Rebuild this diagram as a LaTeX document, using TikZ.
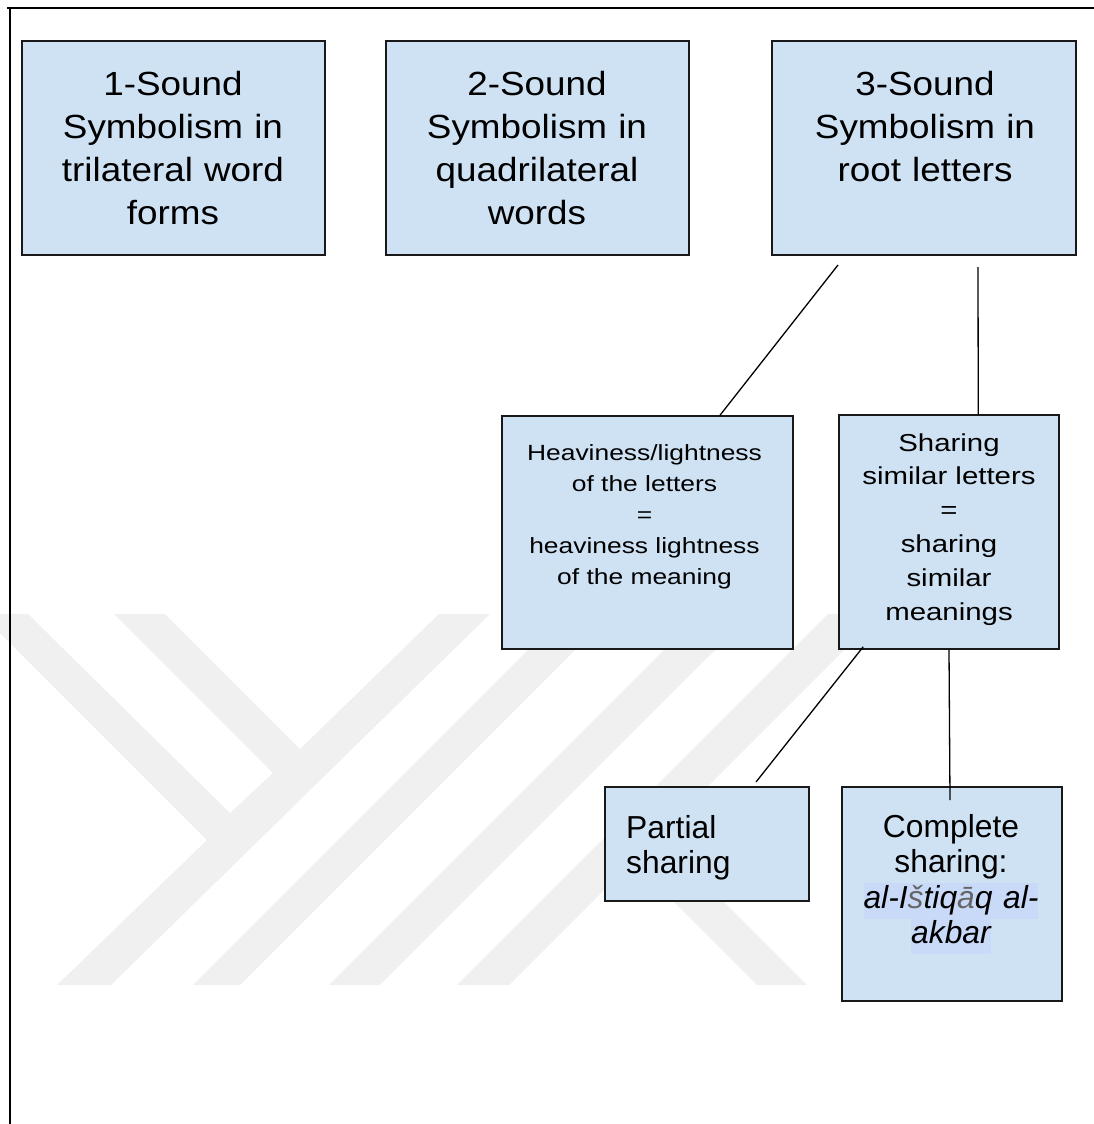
\documentclass[tikz,border=0pt]{standalone}
\usepackage{fontspec}
\setmainfont{Liberation Sans}
\newfontfamily\widesans[FakeStretch=1.1]{Liberation Sans}
\newfontfamily\widersans[FakeStretch=1.2]{Liberation Sans}
\usetikzlibrary{calc}
\definecolor{boxblue}{HTML}{CFE2F3}
\definecolor{markblue}{HTML}{C9DAF8}
\definecolor{wmgray}{HTML}{F0F0F0}
\newcommand{\markline}[1]{{\setlength{\fboxsep}{0pt}\colorbox{markblue}{\strut #1}}}
\newcommand{\dimch}[1]{\textcolor{black!60}{#1}}

\begin{document}
\begin{tikzpicture}[x=1pt, y=-1pt,
    stage/.style={draw=black!90, fill=boxblue, line width=1.6pt, inner sep=0pt},
    link/.style={draw=black, line width=1.3pt},
    bigtext/.style={anchor=north, inner sep=0pt, text width=300pt, align=center,
      font=\widesans\fontsize{33.5}{43}\selectfont},
    midtext/.style={anchor=north, inner sep=0pt, align=center,
      font=\widersans\fontsize{22}{31}\selectfont},
    sharetext/.style={anchor=north, inner sep=0pt, align=center,
      font=\widersans\fontsize{24.5}{33.8}\selectfont},
    lowtext/.style={anchor=north, inner sep=0pt, align=center,
      font=\fontsize{31.8}{35.5}\selectfont}]
  \useasboundingbox (0,0) rectangle (1094,1124);
  % watermark in the back
  \fill[wmgray] (-19,614) -- (28,614) -- (230,813) -- (273,773) -- (114,614)
    -- (165,614) -- (300,749) -- (439,614) -- (490,614) -- (111,985)
    -- (57,985) -- (207,840) -- cycle;
  \fill[wmgray] (193,985) -- (240,985) -- (611,614) -- (564,614) -- cycle;
  \fill[wmgray] (329,985) -- (380,985) -- (751,614) -- (700,614) -- cycle;
  \fill[wmgray] (457,985) -- (509,985) -- (880,614) -- (828,614) -- cycle;
  \fill[wmgray] (633,861) -- (658,836) -- (807,985) -- (757,985) -- cycle;
  % frame
  \draw[line width=2.2pt] (7,8) -- (1094,8);
  \draw[line width=2pt] (10,9) -- (10,1124);
  % boxes
  \node[stage, minimum width=303pt, minimum height=214pt] at (173.5,148) (sym1) {};
  \node[stage, minimum width=303pt, minimum height=214pt] at (537.5,148) (sym2) {};
  \node[stage, minimum width=304pt, minimum height=214pt] at (924,148) (sym3) {};
  \node[stage, minimum width=291pt, minimum height=233pt] at (647.75,532.5) (heavy) {};
  \node[stage, minimum width=220pt, minimum height=234pt] at (949,532) (share) {};
  \node[stage, minimum width=204pt, minimum height=114pt] at (707,844) (partial) {};
  \node[stage, minimum width=220pt, minimum height=214pt] at (952,894) (complete) {};
  % connectors
  \coordinate (c1top) at (838,265);
  \coordinate (c2top) at (978,267);
  \coordinate (c3end) at (756,782);
  \coordinate (c4end) at (950,800);
  \draw[link] (c1top) -- ($(heavy.north west)!0.747!(heavy.north east)$);
  \draw[link] (c2top) -- ($(share.north west)!0.632!(share.north east)$);
  \draw[link] ($(share.south west)+(25,-3)$) -- (c3end);
  \draw[link] (share.south) -- (c4end);
  % texts
  \node[bigtext] at (173,65) (sym1txt) {\strut 1-Sound\\Symbolism in\\trilateral word\\forms};
  \node[bigtext] at (537,65) (sym2txt) {\strut 2-Sound\\Symbolism in\\quadrilateral\\words};
  \node[bigtext] at (925,65) (sym3txt) {\strut 3-Sound\\Symbolism in\\root letters};
  \node[midtext, text width=290pt] at (644.5,439) (heavytxt)
    {\strut Heaviness/lightness\\of the letters\\=\\heaviness lightness\\of the meaning};
  \node[sharetext, text width=218pt] at (949,427.3) (sharetxt)
    {\strut Sharing\\similar letters\\=\\sharing\\similar\\meanings};
  \node[lowtext, anchor=north west, align=left, text width=180pt] at (626,813.2) (partialtxt)
    {\strut Partial\\sharing};
  \node[lowtext, text width=218pt] at (951,812.2) (completetxt)
    {\strut Complete\\sharing:\\\markline{\itshape al-I\dimch{š}tiq\dimch{ā}q al-}\\\markline{\itshape akbar}};
\end{tikzpicture}
\end{document}
